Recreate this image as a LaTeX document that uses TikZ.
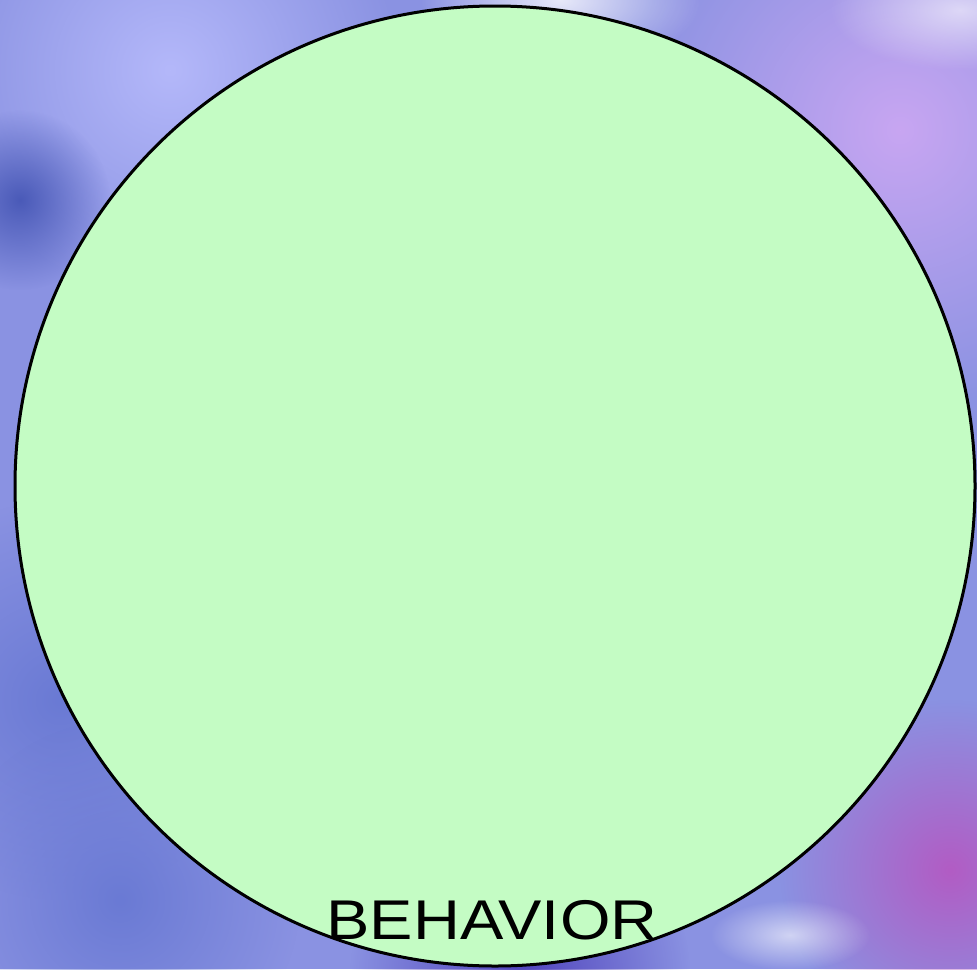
\documentclass[tikz,border=0pt]{standalone}
\usepackage{fontspec}
\newfontfamily\handfont{Liberation Sans}
\usetikzlibrary{fadings}
\tikzfading[name=softblob, inner color=transparent!0, outer color=transparent!100]
\definecolor{bgbase}{HTML}{8A92E2}
\definecolor{leaf}{HTML}{C4FCC4}
\definecolor{lav}{HTML}{B4B8FA}
\definecolor{deepblue}{HTML}{4A5AB8}
\definecolor{purp}{HTML}{C8A6F2}
\definecolor{mag}{HTML}{B25CC4}
\definecolor{indig}{HTML}{5044BC}
\definecolor{midblue}{HTML}{6A7AD4}
\tikzset{
  blob/.style={fill=#1, path fading=softblob},
  bigcircle/.style={circle, draw=black, line width=3pt, fill=leaf, minimum size=960pt, inner sep=0pt},
  label/.style={font=\handfont\fontsize{56}{56}\selectfont, xscale=1.16}
}
\begin{document}
\begin{tikzpicture}[x=1pt,y=-1pt]
\useasboundingbox (0,0) rectangle (977,969);
\fill[bgbase] (0,0) rectangle (977,969);
\fill[blob=lav] (170,70) circle (230);
\fill[blob=deepblue] (20,200) circle (90);
\fill[blob=purp] (900,130) circle (280);
\fill[blob=white, opacity=0.8] (560,0) ellipse (140 and 70);
\fill[blob=white, opacity=0.6] (960,10) ellipse (130 and 60);
\fill[blob=midblue] (60,700) circle (200);
\fill[blob=midblue] (120,900) circle (180);
\fill[blob=mag] (950,870) circle (170);
\fill[blob=indig] (520,975) circle (170);
\fill[blob=white, opacity=0.6] (790,935) ellipse (80 and 35);
\node[bigcircle] (behavior) at (495,486) {};
\node[label] (lbl) at (492,920) {BEHAVIOR};
\end{tikzpicture}
\end{document}
